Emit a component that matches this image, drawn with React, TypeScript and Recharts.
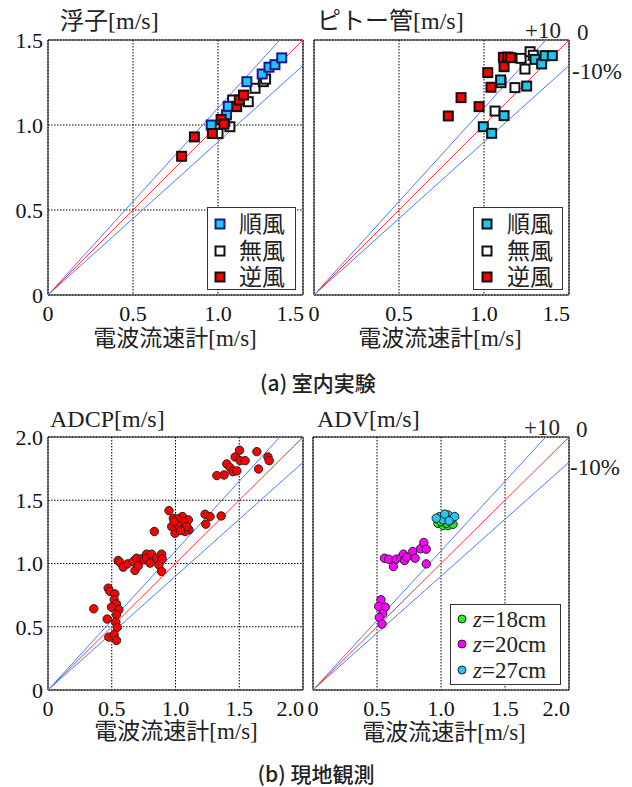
import React from "react";
import {
  ScatterChart,
  Scatter,
  XAxis,
  YAxis,
  CartesianGrid,
  ReferenceArea,
} from "recharts";

const SERIF = '"Liberation Serif", "Times New Roman", "Noto Sans CJK JP", serif';
const SANS = '"Noto Sans CJK JP", "Noto Sans", sans-serif';

// axis ticks
const labTicks = [0, 0.5, 1.0, 1.5];
const fieldTicks = [0, 0.5, 1.0, 1.5, 2.0];

// ratio lines y = k·x  (+10%, 0, -10%)
const ratios = [
  { k: 1.1, color: "#4d7bff" },
  { k: 1.0, color: "#ff3535" },
  { k: 0.9, color: "#4d7bff" },
];

// (a) 室内実験 — 浮子
const floatTail = [
  { x: 0.96, y: 1.0 }, { x: 1.04, y: 1.02 }, { x: 1.05, y: 1.06 },
  { x: 1.06, y: 1.11 }, { x: 1.17, y: 1.255 }, { x: 1.26, y: 1.3 },
  { x: 1.3, y: 1.34 }, { x: 1.335, y: 1.355 }, { x: 1.375, y: 1.395 },
];
const floatCalm = [
  { x: 1.0, y: 0.95 }, { x: 1.07, y: 0.99 }, { x: 1.086, y: 1.147 },
  { x: 1.178, y: 1.137 }, { x: 1.218, y: 1.216 }, { x: 1.267, y: 1.255 },
  { x: 1.28, y: 1.27 },
];
const floatHead = [
  { x: 0.786, y: 0.816 }, { x: 0.861, y: 0.93 }, { x: 0.967, y: 0.95 },
  { x: 1.018, y: 1.033 }, { x: 1.035, y: 1.005 }, { x: 1.11, y: 1.108 },
  { x: 1.125, y: 1.147 }, { x: 1.15, y: 1.176 },
];

// (a) 室内実験 — ピトー管
const pitotTail = [
  { x: 0.996, y: 0.99 }, { x: 1.045, y: 0.951 }, { x: 1.118, y: 1.055 },
  { x: 1.098, y: 1.265 }, { x: 1.251, y: 1.229 }, { x: 1.3, y: 1.386 },
  { x: 1.339, y: 1.359 }, { x: 1.359, y: 1.408 }, { x: 1.402, y: 1.408 },
];
const pitotCalm = [
  { x: 1.065, y: 1.082 }, { x: 1.1, y: 1.249 }, { x: 1.182, y: 1.22 },
  { x: 1.218, y: 1.392 }, { x: 1.241, y: 1.329 }, { x: 1.271, y: 1.431 },
  { x: 1.29, y: 1.41 },
];
const pitotHead = [
  { x: 0.79, y: 1.053 }, { x: 0.865, y: 1.161 }, { x: 0.971, y: 1.108 },
  { x: 1.022, y: 1.308 }, { x: 1.041, y: 1.222 }, { x: 1.118, y: 1.343 },
  { x: 1.114, y: 1.398 }, { x: 1.14, y: 1.4 }, { x: 1.157, y: 1.396 },
];

// (b) 現地観測 — ADCP
const adcp = [
  { x: 0.359, y: 0.642 }, { x: 0.472, y: 0.805 }, { x: 0.485, y: 0.78 },
  { x: 0.524, y: 0.76 }, { x: 0.519, y: 0.713 }, { x: 0.537, y: 0.68 },
  { x: 0.498, y: 0.655 }, { x: 0.556, y: 0.634 }, { x: 0.537, y: 0.595 },
  { x: 0.464, y: 0.561 }, { x: 0.532, y: 0.537 }, { x: 0.543, y: 0.495 },
  { x: 0.477, y: 0.418 }, { x: 0.519, y: 0.437 }, { x: 0.537, y: 0.392 },
  { x: 0.55, y: 1.024 }, { x: 0.563, y: 1.01 }, { x: 0.59, y: 0.971 },
  { x: 0.624, y: 0.997 }, { x: 0.668, y: 1.016 }, { x: 0.682, y: 0.945 },
  { x: 0.695, y: 1.042 }, { x: 0.708, y: 0.982 }, { x: 0.734, y: 1.037 },
  { x: 0.752, y: 1.029 }, { x: 0.773, y: 1.074 }, { x: 0.773, y: 1.042 },
  { x: 0.8, y: 1.003 }, { x: 0.812, y: 1.074 }, { x: 0.852, y: 1.042 },
  { x: 0.87, y: 0.989 }, { x: 0.891, y: 1.074 }, { x: 0.896, y: 1.037 },
  { x: 0.891, y: 0.937 }, { x: 0.834, y: 1.253 },
  { x: 0.949, y: 1.418 }, { x: 0.983, y: 1.358 }, { x: 1.009, y: 1.318 },
  { x: 1.001, y: 1.287 }, { x: 1.048, y: 1.279 }, { x: 0.996, y: 1.239 },
  { x: 1.054, y: 1.371 }, { x: 1.101, y: 1.345 }, { x: 1.106, y: 1.266 },
  { x: 1.075, y: 1.253 }, { x: 1.035, y: 1.305 }, { x: 1.062, y: 1.332 },
  { x: 0.97, y: 1.292 }, { x: 1.017, y: 1.353 }, { x: 1.088, y: 1.292 },
  { x: 1.02, y: 1.3 }, { x: 1.04, y: 1.26 }, { x: 0.99, y: 1.33 },
  { x: 1.232, y: 1.389 }, { x: 1.271, y: 1.371 }, { x: 1.237, y: 1.311 },
  { x: 1.358, y: 1.376 },
  { x: 1.324, y: 1.695 }, { x: 1.381, y: 1.7 }, { x: 1.402, y: 1.787 },
  { x: 1.428, y: 1.758 }, { x: 1.45, y: 1.726 }, { x: 1.468, y: 1.842 },
  { x: 1.481, y: 1.732 }, { x: 1.502, y: 1.895 }, { x: 1.507, y: 1.813 },
  { x: 1.546, y: 1.813 }, { x: 1.638, y: 1.884 }, { x: 1.651, y: 1.747 },
  { x: 1.725, y: 1.842 }, { x: 1.735, y: 1.813 },
];

// (b) 現地観測 — ADV
const advZ18 = [
  { x: 0.976, y: 1.318 }, { x: 1.016, y: 1.3 }, { x: 1.055, y: 1.3 },
  { x: 1.094, y: 1.31 }, { x: 1.042, y: 1.318 }, { x: 1.0, y: 1.33 },
];
const advZ20 = [
  { x: 0.531, y: 0.713 }, { x: 0.513, y: 0.661 }, { x: 0.565, y: 0.655 },
  { x: 0.545, y: 0.603 }, { x: 0.518, y: 0.574 }, { x: 0.539, y: 0.521 },
  { x: 0.558, y: 1.042 }, { x: 0.592, y: 1.034 }, { x: 0.628, y: 0.976 },
  { x: 0.649, y: 1.034 }, { x: 0.688, y: 1.047 }, { x: 0.707, y: 1.074 },
  { x: 0.715, y: 1.024 }, { x: 0.733, y: 1.05 }, { x: 0.78, y: 1.095 },
  { x: 0.798, y: 1.042 }, { x: 0.84, y: 1.116 }, { x: 0.866, y: 1.166 },
  { x: 0.885, y: 1.113 }, { x: 0.885, y: 0.997 },
];
const advZ27 = [
  { x: 0.99, y: 1.371 }, { x: 1.016, y: 1.345 }, { x: 1.055, y: 1.384 },
  { x: 1.081, y: 1.345 }, { x: 1.107, y: 1.371 }, { x: 1.029, y: 1.39 },
  { x: 0.963, y: 1.358 }, { x: 1.063, y: 1.337 },
];

type Pt = { x: number; y: number };
type Series = { name: string; data: Pt[]; fill: string; stroke: string };

const CYAN = "#1ec6f2";
const NAVY = "#1a1a90";

const floatSeries: Series[] = [
  { name: "無風", data: floatCalm, fill: "#ffffff", stroke: "#111" },
  { name: "順風", data: floatTail, fill: CYAN, stroke: NAVY },
  { name: "逆風", data: floatHead, fill: "#ff0000", stroke: "#111" },
];
const pitotSeries: Series[] = [
  { name: "無風", data: pitotCalm, fill: "#ffffff", stroke: "#111" },
  { name: "順風", data: pitotTail, fill: CYAN, stroke: "#111" },
  { name: "逆風", data: pitotHead, fill: "#ff0000", stroke: "#111" },
];
const adcpSeries: Series[] = [
  { name: "ADCP", data: adcp, fill: "#ff0000", stroke: "#222" },
];
const advSeries: Series[] = [
  { name: "z=18cm", data: advZ18, fill: "#22ee22", stroke: "#222" },
  { name: "z=20cm", data: advZ20, fill: "#ff00ff", stroke: "#222" },
  { name: "z=27cm", data: advZ27, fill: "#22c8f0", stroke: "#222" },
];

const square = (fill: string, stroke: string) => (p: any) => (
  <rect x={p.cx - 4.5} y={p.cy - 4.5} width={9} height={9} fill={fill} stroke={stroke} strokeWidth={2} />
);
const circle = (fill: string, stroke: string) => (p: any) => (
  <circle cx={p.cx} cy={p.cy} r={4.2} fill={fill} stroke={stroke} strokeWidth={1} />
);
const noDot = () => <g />;

const fmt = (v: number) => (v === 0 ? "0" : v.toFixed(1));

const XTick = (props: any) => {
  const { x, y, payload, index, visibleTicksCount } = props;
  const last = index === visibleTicksCount - 1;
  return (
    <text
      x={last ? x + 1 : x}
      y={y}
      dy="0.71em"
      textAnchor={last ? "end" : "middle"}
      fill="#111"
      style={{ fontSize: 22, fontFamily: SERIF }}
    >
      {fmt(payload.value)}
    </text>
  );
};

const YTick = (props: any) => {
  const { x, y, payload } = props;
  return (
    <text x={x} y={y} dy="0.36em" textAnchor="end" fill="#111" style={{ fontSize: 22, fontFamily: SERIF }}>
      {fmt(payload.value)}
    </text>
  );
};

function Panel(props: {
  left: number;
  top: number;
  w: number;
  h: number;
  max: number;
  ticks: number[];
  showY: boolean;
  series: Series[];
  marker: "square" | "circle";
}) {
  const { left, top, w, h, max, ticks, showY, series, marker } = props;
  const ML = 48, MT = 20, MR = 12, XH = 40;
  // the three ratio lines, clipped where they leave the square plot
  const lines = ratios.map((r) => ({
    ...r,
    data: [{ x: 0, y: 0 }, r.k > 1 ? { x: max / r.k, y: max } : { x: max, y: max * r.k }],
  }));
  return (
    <div style={{ position: "absolute", left: left - ML, top: top - MT }}>
      <ScatterChart width={ML + w + MR} height={MT + h + XH} margin={{ top: MT, right: MR, bottom: 0, left: 0 }}>
        <CartesianGrid stroke="#000" strokeDasharray="1.5 1.5" />
        <XAxis
          type="number"
          dataKey="x"
          domain={[0, max]}
          ticks={ticks}
          interval={0}
          allowDataOverflow
          height={XH}
          axisLine={false}
          tickLine={false}
          tickSize={0}
          tickMargin={10}
          tick={<XTick />}
        />
        <YAxis
          type="number"
          dataKey="y"
          domain={[0, max]}
          ticks={ticks}
          interval={0}
          allowDataOverflow
          width={ML}
          axisLine={false}
          tickLine={false}
          tickSize={0}
          tickMargin={5}
          tick={showY ? <YTick /> : false}
        />
        {lines.map((l) => (
          <Scatter
            key={"k" + l.k}
            data={l.data}
            line={{ stroke: l.color, strokeWidth: 1 }}
            shape={noDot}
            isAnimationActive={false}
          />
        ))}
        {series.map((s) => (
          <Scatter
            key={s.name}
            name={s.name}
            data={s.data}
            fill={s.fill}
            isAnimationActive={false}
            shape={marker === "square" ? square(s.fill, s.stroke) : circle(s.fill, s.stroke)}
          />
        ))}
        <ReferenceArea x1={0} x2={max} y1={0} y2={max} fill="none" fillOpacity={0} stroke="#111" strokeWidth={1} />
      </ScatterChart>
    </div>
  );
}

function Txt(props: { x: number; y: number; anchor?: "start" | "middle"; size?: number; font?: string; weight?: number; children: React.ReactNode }) {
  const { x, y, anchor = "start", size = 23, font = SERIF, weight = 400, children } = props;
  return (
    <div
      style={{
        position: "absolute",
        left: x,
        top: y,
        transform: anchor === "middle" ? "translate(-50%, -50%)" : "translate(0, -50%)",
        fontFamily: font,
        fontSize: size,
        fontWeight: weight,
        lineHeight: 1,
        whiteSpace: "nowrap",
        color: "#222",
      }}
    >
      {children}
    </div>
  );
}

function LegendBox(props: {
  left: number;
  top: number;
  w: number;
  h: number;
  items: { label: React.ReactNode; fill: string; stroke: string }[];
  marker: "square" | "circle";
  mx: number;
  tx: number;
  rows: number[];
}) {
  const { left, top, w, h, items, marker, mx, tx, rows } = props;
  return (
    <div
      style={{
        position: "absolute",
        left,
        top,
        width: w,
        height: h,
        boxSizing: "border-box",
        border: "1px solid #333",
        background: "#fff",
      }}
    >
      {items.map((it, i) => (
        <React.Fragment key={i}>
          <svg width={14} height={14} style={{ position: "absolute", left: mx - 7, top: rows[i] - 7 }}>
            {marker === "square" ? (
              <rect x={2.5} y={2.5} width={9} height={9} fill={it.fill} stroke={it.stroke} strokeWidth={2} />
            ) : (
              <circle cx={7} cy={7} r={4} fill={it.fill} stroke={it.stroke} strokeWidth={1} />
            )}
          </svg>
          <Txt x={tx} y={rows[i]}>{it.label}</Txt>
        </React.Fragment>
      ))}
    </div>
  );
}

const zLabel = (n: string) => (
  <span>
    <i>z</i>={n}cm
  </span>
);

export default function App() {
  const windItems = (s: Series[]) => [s[1], s[0], s[2]].map((x) => ({ label: x.name, fill: x.fill, stroke: x.stroke }));
  return (
    <div style={{ position: "absolute", left: 0, top: 0, width: 632, height: 787, background: "#fff", overflow: "hidden" }}>
      <Panel left={48} top={40} w={255} h={255} max={1.5} ticks={labTicks} showY series={floatSeries} marker="square" />
      <Panel left={314} top={40} w={255} h={255} max={1.5} ticks={labTicks} showY={false} series={pitotSeries} marker="square" />
      <Panel left={48} top={437} w={255} h={253} max={2.0} ticks={fieldTicks} showY series={adcpSeries} marker="circle" />
      <Panel left={313} top={437} w={256} h={253} max={2.0} ticks={fieldTicks} showY={false} series={advSeries} marker="circle" />

      <Txt x={60} y={21} size={24}>浮子[m/s]</Txt>
      <Txt x={317} y={21} size={24}>ピトー管[m/s]</Txt>
      <Txt x={50} y={419} size={24}>ADCP[m/s]</Txt>
      <Txt x={317} y={419} size={24}>ADV[m/s]</Txt>

      <Txt x={175} y={338} anchor="middle">電波流速計[m/s]</Txt>
      <Txt x={440} y={338} anchor="middle">電波流速計[m/s]</Txt>
      <Txt x={176} y={731} anchor="middle">電波流速計[m/s]</Txt>
      <Txt x={444} y={732} anchor="middle">電波流速計[m/s]</Txt>

      <Txt x={525} y={30}>+10</Txt>
      <Txt x={577} y={32}>0</Txt>
      <Txt x={572} y={71}>-10%</Txt>
      <Txt x={524} y={427}>+10</Txt>
      <Txt x={576} y={429}>0</Txt>
      <Txt x={570} y={467}>-10%</Txt>

      <LegendBox left={207} top={207} w={89} h={83} items={windItems(floatSeries)} marker="square" mx={12} tx={31} rows={[16, 43, 69]} />
      <LegendBox left={473} top={207} w={90} h={83} items={windItems(pitotSeries)} marker="square" mx={13} tx={33} rows={[16, 43, 69]} />
      <LegendBox
        left={450}
        top={604}
        w={111}
        h={81}
        items={advSeries.map((s) => ({ label: zLabel(s.name.slice(2, 4)), fill: s.fill, stroke: s.stroke }))}
        marker="circle"
        mx={11}
        tx={22}
        rows={[14, 39, 65]}
      />

      <Txt x={318} y={382} anchor="middle" size={21} font={SANS} weight={500}>(a) 室内実験</Txt>
      <Txt x={316} y={773} anchor="middle" size={21} font={SANS} weight={500}>(b) 現地観測</Txt>
    </div>
  );
}
